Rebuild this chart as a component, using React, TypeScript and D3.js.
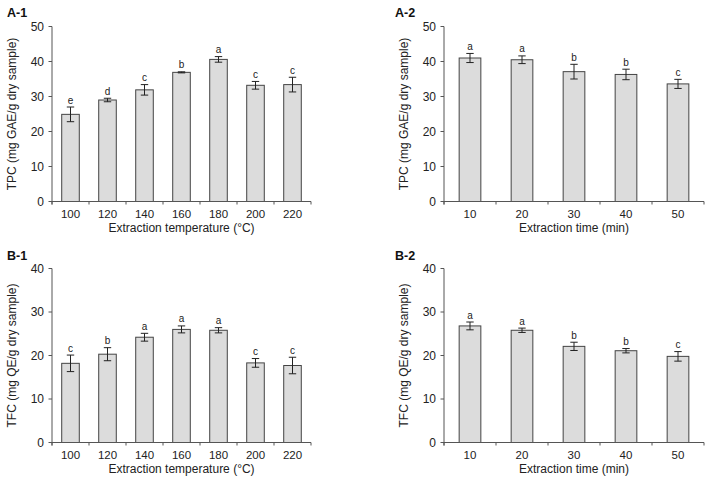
import React from "react";
import * as d3 from "d3";

// categories
const tempCats = ["100", "120", "140", "160", "180", "200", "220"];
const timeCats = ["10", "20", "30", "40", "50"];

// A-1: TPC vs temperature
const tpcTemp = [24.9, 29.0, 31.9, 36.9, 40.6, 33.2, 33.4];
const tpcTempErr = [2.1, 0.5, 1.5, 0.15, 0.8, 1.1, 2.1];
const tpcTempLetters = ["e", "d", "c", "b", "a", "c", "c"];

// A-2: TPC vs time
const tpcTime = [41.0, 40.5, 37.1, 36.3, 33.6];
const tpcTimeErr = [1.3, 1.1, 2.1, 1.5, 1.3];
const tpcTimeLetters = ["a", "a", "b", "b", "c"];

// B-1: TFC vs temperature
const tfcTemp = [18.2, 20.3, 24.2, 26.0, 25.8, 18.3, 17.7];
const tfcTempErr = [1.9, 1.5, 0.9, 0.8, 0.6, 1.0, 1.9];
const tfcTempLetters = ["c", "b", "a", "a", "a", "c", "c"];

// B-2: TFC vs time
const tfcTime = [26.8, 25.8, 22.1, 21.1, 19.8];
const tfcTimeErr = [0.9, 0.5, 0.95, 0.5, 1.1];
const tfcTimeLetters = ["a", "a", "b", "b", "c"];

const tpcTicks = [0, 10, 20, 30, 40, 50];
const tfcTicks = [0, 10, 20, 30, 40];

const FONT = "'Liberation Sans', Arial, Helvetica, sans-serif";
const AXIS = "#555";

type PanelProps = {
  label: string;
  labelX: number;
  labelY: number;
  cats: string[];
  values: number[];
  errs: number[];
  letters: string[];
  ticks: number[];
  yTitle: string;
  xTitle: string;
  left: number;
  right: number;
  top: number;
  bottom: number;
  barFrac: number;
};

function Panel(p: PanelProps) {
  const x = d3.scaleBand().domain(p.cats).range([p.left, p.right]).padding(0);
  const y = d3
    .scaleLinear()
    .domain([0, d3.max(p.ticks) as number])
    .range([p.bottom, p.top]);
  const bw = x.bandwidth() * p.barFrac;
  const bounds = p.cats.map((c) => x(c) as number).concat([p.right]);
  const midY = (p.top + p.bottom) / 2;

  return (
    <g>
      <text
        x={p.labelX}
        y={p.labelY}
        fontSize={12.5}
        fontWeight="bold"
        fill="#111"
      >
        {p.label}
      </text>

      {/* bars */}
      {p.values.map((v, i) => {
        const cx = (x(p.cats[i]) as number) + x.bandwidth() / 2;
        return (
          <rect
            key={"b" + i}
            x={cx - bw / 2}
            y={y(v)}
            width={bw}
            height={p.bottom - y(v)}
            fill="#dcdcdc"
            stroke="#444"
            strokeWidth={1}
          />
        );
      })}

      {/* error bars and letters */}
      {p.values.map((v, i) => {
        const cx = (x(p.cats[i]) as number) + x.bandwidth() / 2;
        const hi = y(v + p.errs[i]);
        const lo = y(v - p.errs[i]);
        return (
          <g key={"e" + i} stroke="#222" strokeWidth={1}>
            <line x1={cx} x2={cx} y1={hi} y2={lo} />
            <line x1={cx - 3.7} x2={cx + 3.7} y1={hi} y2={hi} />
            <line x1={cx - 3.7} x2={cx + 3.7} y1={lo} y2={lo} />
            <text
              x={cx}
              y={hi - 3.5}
              textAnchor="middle"
              fontSize={10}
              fill="#222"
              stroke="none"
            >
              {p.letters[i]}
            </text>
          </g>
        );
      })}

      {/* y axis */}
      <line x1={p.left} x2={p.left} y1={p.top} y2={p.bottom + 3} stroke={AXIS} />
      {p.ticks.map((t) => (
        <g key={"yt" + t}>
          <line
            x1={p.left - 3.5}
            x2={p.left}
            y1={y(t)}
            y2={y(t)}
            stroke={AXIS}
          />
          <text
            x={p.left - 8}
            y={y(t)}
            dy="0.35em"
            textAnchor="end"
            fontSize={12}
            fill="#222"
          >
            {t}
          </text>
        </g>
      ))}
      <text
        transform={`translate(${p.left - 40},${midY}) rotate(-90)`}
        dy="0.35em"
        textAnchor="middle"
        fontSize={12}
        fill="#222"
      >
        {p.yTitle}
      </text>

      {/* x axis */}
      <line x1={p.left} x2={p.right} y1={p.bottom} y2={p.bottom} stroke={AXIS} />
      {bounds.map((b, i) => (
        <line
          key={"xt" + i}
          x1={b}
          x2={b}
          y1={p.bottom}
          y2={p.bottom + 3}
          stroke={AXIS}
        />
      ))}
      {p.cats.map((c) => (
        <text
          key={"xl" + c}
          x={(x(c) as number) + x.bandwidth() / 2}
          y={p.bottom + 16.5}
          textAnchor="middle"
          fontSize={11.5}
          fill="#222"
        >
          {c}
        </text>
      ))}
      <text
        x={(p.left + p.right) / 2}
        y={p.bottom + 30}
        textAnchor="middle"
        fontSize={12}
        fill="#222"
      >
        {p.xTitle}
      </text>
    </g>
  );
}

export default function App() {
  return (
    <svg
      width={712}
      height={489}
      style={{ position: "absolute", left: 0, top: 0, background: "#fff" }}
      fontFamily={FONT}
    >
      <Panel
        label="A-1"
        labelX={7}
        labelY={17}
        cats={tempCats}
        values={tpcTemp}
        errs={tpcTempErr}
        letters={tpcTempLetters}
        ticks={tpcTicks}
        yTitle="TPC (mg GAE/g dry sample)"
        xTitle="Extraction temperature (°C)"
        left={52}
        right={311}
        top={26.5}
        bottom={201.5}
        barFrac={0.475}
      />
      <Panel
        label="A-2"
        labelX={395}
        labelY={17}
        cats={timeCats}
        values={tpcTime}
        errs={tpcTimeErr}
        letters={tpcTimeLetters}
        ticks={tpcTicks}
        yTitle="TPC (mg GAE/g dry sample)"
        xTitle="Extraction time (min)"
        left={444}
        right={704}
        top={26.5}
        bottom={201.5}
        barFrac={0.417}
      />
      <Panel
        label="B-1"
        labelX={7}
        labelY={260}
        cats={tempCats}
        values={tfcTemp}
        errs={tfcTempErr}
        letters={tfcTempLetters}
        ticks={tfcTicks}
        yTitle="TFC (mg QE/g dry sample)"
        xTitle="Extraction temperature (°C)"
        left={52}
        right={311}
        top={268.5}
        bottom={442.5}
        barFrac={0.475}
      />
      <Panel
        label="B-2"
        labelX={395}
        labelY={260}
        cats={timeCats}
        values={tfcTime}
        errs={tfcTimeErr}
        letters={tfcTimeLetters}
        ticks={tfcTicks}
        yTitle="TFC (mg QE/g dry sample)"
        xTitle="Extraction time (min)"
        left={444}
        right={704}
        top={268.5}
        bottom={442.5}
        barFrac={0.417}
      />
    </svg>
  );
}
